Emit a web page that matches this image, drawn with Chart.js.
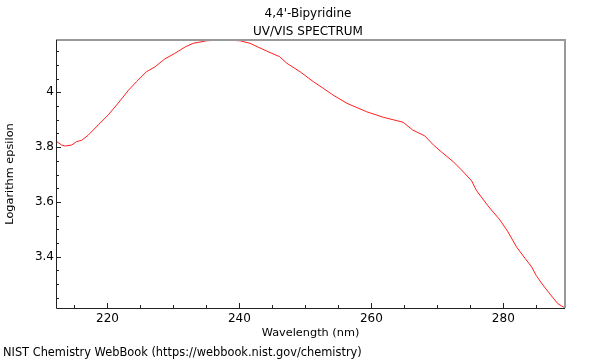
<!DOCTYPE html>
<html>
<head>
<meta charset="utf-8">
<script src="https://cdn.jsdelivr.net/npm/chart.js@4"></script>
<style>
  html, body { margin: 0; padding: 0; background: #fff; }
  #wrap { width: 600px; height: 360px; }
</style>
</head>
<body>
<div id="wrap"><canvas id="spectrum"></canvas></div>
<script>
// values
var wavelengths = [212.2, 213.1, 213.6, 214.6, 215.3, 216.1, 217.1, 218.6, 220.1, 221.6,
    223.2, 224.4, 225.9, 227.2, 228.7, 230.2, 231.8, 233.0, 235.0, 237.6,
    240.1, 241.6, 244.1, 246.1, 247.2, 249.2, 251.2, 252.7, 254.2, 256.3,
    259.3, 261.8, 264.8, 266.3, 268.1, 269.4, 270.6, 272.4, 273.7, 275.2,
    275.9, 277.7, 279.5, 280.7, 282.0, 283.3, 284.3, 285.0, 286.0, 287.3,
    288.3, 289.3];
var logEpsilon = [3.822, 3.807, 3.804, 3.808, 3.820, 3.825, 3.844, 3.881, 3.917, 3.960,
    4.008, 4.039, 4.075, 4.093, 4.122, 4.142, 4.166, 4.179, 4.188, 4.192,
    4.188, 4.179, 4.151, 4.130, 4.106, 4.075, 4.039, 4.015, 3.990, 3.960,
    3.929, 3.909, 3.891, 3.862, 3.841, 3.808, 3.783, 3.747, 3.716, 3.677,
    3.643, 3.585, 3.534, 3.491, 3.436, 3.394, 3.363, 3.331, 3.297, 3.257,
    3.228, 3.214];

var xTicks = [215, 220, 225, 230, 235, 240, 245, 250, 255, 260, 265, 270, 275, 280, 285];
var xLabels = [220, 240, 260, 280];
var yTicks = [3.25, 3.3, 3.35, 3.4, 3.45, 3.5, 3.55, 3.6, 3.65, 3.7, 3.75, 3.8, 3.85,
    3.9, 3.95, 4, 4.05, 4.1, 4.15];
var yLabels = [3.4, 3.6, 3.8, 4];

var titleLines = ["4,4'-Bipyridine", "UV/VIS SPECTRUM"];
var footer = "NIST Chemistry WebBook (https://webbook.nist.gov/chemistry)";

var FONT = '"DejaVu Sans", sans-serif';

// frame, inward ticks, titles and footer
var framePlugin = {
    id: "frame",
    afterDraw: (chart) => {
        var ctx = chart.ctx;
        var a = chart.chartArea;
        var xs = chart.scales.x;
        var ys = chart.scales.y;
        ctx.save();

        ctx.strokeStyle = "#999";
        ctx.lineWidth = 2;
        ctx.beginPath();
        ctx.moveTo(a.left, a.top);
        ctx.lineTo(a.right, a.top);
        ctx.lineTo(a.right, a.bottom);
        ctx.stroke();

        ctx.strokeStyle = "#222";
        ctx.lineWidth = 1;
        ctx.beginPath();
        ctx.moveTo(a.left + 0.5, a.top);
        ctx.lineTo(a.left + 0.5, a.bottom + 0.5);
        ctx.lineTo(a.right, a.bottom + 0.5);
        xTicks.forEach((v) => {
            var px = Math.round(xs.getPixelForValue(v)) + 0.5;
            var len = xLabels.includes(v) ? 5 : 3;
            ctx.moveTo(px, a.bottom);
            ctx.lineTo(px, a.bottom - len);
        });
        yTicks.forEach((v) => {
            var py = Math.round(ys.getPixelForValue(v)) + 0.5;
            var len = yLabels.includes(v) ? 5 : 3;
            ctx.moveTo(a.left, py);
            ctx.lineTo(a.left + len, py);
        });
        ctx.stroke();

        ctx.fillStyle = "#000";
        ctx.font = "12px " + FONT;
        ctx.textAlign = "center";
        ctx.textBaseline = "alphabetic";
        ctx.fillText(titleLines[0], 308, 17);
        ctx.fillText(titleLines[1], 308, 35);
        ctx.font = "11.4px " + FONT;
        ctx.textAlign = "left";
        ctx.fillText(footer, 3, 356);
        ctx.restore();
    }
};

var canvas = document.getElementById("spectrum");
var chart = new Chart(canvas, {
    type: "line",
    data: {
        datasets: [{
            label: "log epsilon",
            data: wavelengths.map((w, i) => ({ x: w, y: logEpsilon[i] })),
            borderColor: "rgb(255, 30, 30)",
            borderWidth: 1,
            pointRadius: 0,
            tension: 0,
            fill: false
        }]
    },
    options: {
        animation: {
            duration: 0
        },
        responsive: true,
        maintainAspectRatio: false,
        layout: {
            padding: { top: 40, bottom: 18, left: 0, right: 35 }
        },
        plugins: {
            legend: { display: false },
            title: { display: false },
            tooltip: { enabled: false }
        },
        scales: {
            x: {
                type: "linear",
                min: 212.2,
                max: 289.35,
                grid: { display: false, drawTicks: false },
                border: { display: false },
                afterBuildTicks: (s) => { s.ticks = xTicks.map((v) => ({ value: v })); },
                afterFit: (s) => { s.height = 34; },
                ticks: {
                    autoSkip: false,
                    maxRotation: 0,
                    padding: 4,
                    color: "#000",
                    font: { family: FONT, size: 12 },
                    callback: (v) => xLabels.includes(v) ? String(v) : ""
                },
                title: {
                    display: true,
                    text: "Wavelength (nm)",
                    color: "#000",
                    font: { family: FONT, size: 11.3 },
                    padding: { top: 0, bottom: 2 }
                }
            },
            y: {
                type: "linear",
                min: 3.213,
                max: 4.191,
                grid: { display: false, drawTicks: false },
                border: { display: false },
                afterBuildTicks: (s) => { s.ticks = yTicks.map((v) => ({ value: v })); },
                afterFit: (s) => { s.width = 56; },
                ticks: {
                    autoSkip: false,
                    padding: 2,
                    color: "#000",
                    font: { family: FONT, size: 12 },
                    callback: (v) => yLabels.includes(v) ? String(v) : ""
                },
                title: {
                    display: true,
                    text: "Logarithm epsilon",
                    color: "#000",
                    font: { family: FONT, size: 11.3 },
                    padding: { top: 3, bottom: 0 }
                }
            }
        }
    },
    plugins: [framePlugin]
});
</script>
</body>
</html>
